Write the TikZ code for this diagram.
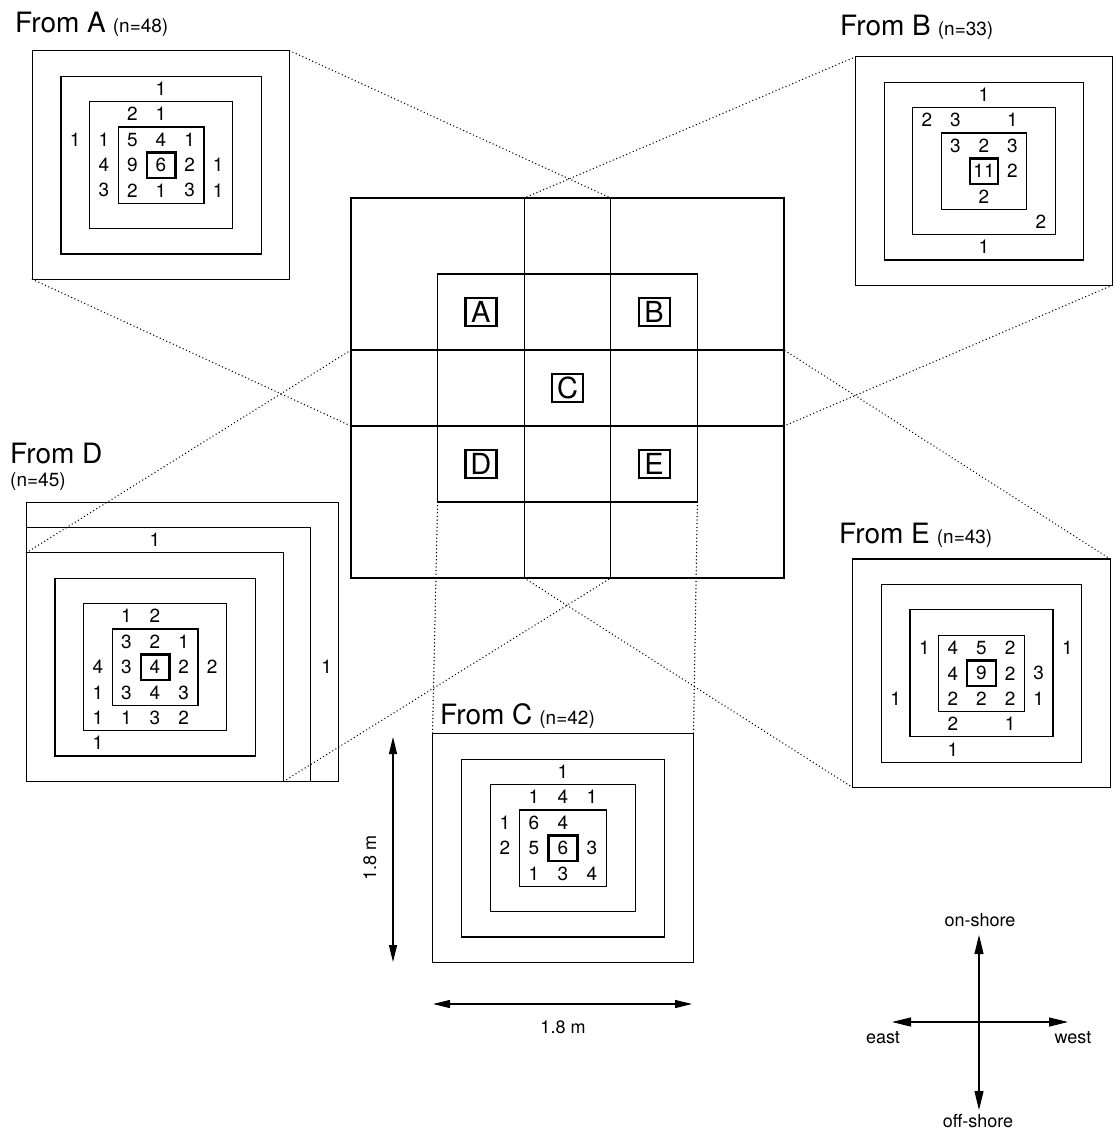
\documentclass[tikz,border=0pt]{standalone}
\usepackage{fontspec}
\setmainfont{TeX Gyre Heros}
\usetikzlibrary{arrows.meta,calc}
\tikzset{
  ring/.style={draw, line width=1.2pt, inner sep=0pt, outer sep=0pt, rectangle},
  ctr/.style={draw, line width=2.4pt, inner sep=0pt, outer sep=0pt, font=\fontsize{19}{19}\selectfont},
  num/.style={inner sep=0pt, font=\fontsize{19}{19}\selectfont},
  ttl/.style={anchor=base west, inner sep=0pt, font=\fontsize{28}{30}\selectfont},
  conn/.style={line width=1.5pt, line cap=round, dash pattern=on 0.01pt off 3.6pt},
  lbox/.style={draw, line width=2.2pt, inner sep=0pt, minimum width=31pt, minimum height=28pt, font=\fontsize{29}{29}\selectfont},
  dimarr/.style={line width=1.2pt, {Triangle[length=17pt,width=8pt]}-{Triangle[length=17pt,width=8pt]}},
  comparr/.style={line width=1.2pt, -{Triangle[length=19pt,width=9pt]}},
  lab/.style={font=\fontsize{18}{18}\selectfont, inner sep=0pt},
}
\newcommand\mkpanel[6]{% name, x, y, cw, ch, centre number
  \coordinate (c#1) at (#2,#3);
  \foreach \k in {9,7,5,3}{
    \node[ring, minimum width={\k*#4pt}, minimum height={\k*#5pt}] (p#1\k) at (c#1) {};
  }
  \node[ctr, minimum width=#4pt, minimum height=#5pt] (k#1) at (c#1) {#6};
}
\newcommand\mknums[4]{% name, cw, ch, list
  \foreach \i/\j/\t in {#4}{
    \path (c#1) ++(\i*#2,\j*#3) node[num] (n#1\i\j) {\t};
  }
}
\newcommand\sm[1]{{\fontsize{19}{20}\selectfont #1}}
\begin{document}
\begin{tikzpicture}[x=1pt,y=-1pt]
\useasboundingbox (0,0) rectangle (1114,1133);

% ---------- central grid ----------
\foreach \i in {0,...,5}{
  \foreach \j in {0,...,5}{
    \coordinate (g\i\j) at (351+\i*86.6, 198+\j*76);
  }
}
\draw[line width=1.3pt] (g11) rectangle (g44);
\draw[line width=1.3pt] (g20) -- (g25);
\draw[line width=1.3pt] (g30) -- (g35);
\draw[line width=1.3pt] (g02) -- (g52);
\draw[line width=1.3pt] (g03) -- (g53);
\draw[line width=2.6pt] (g00) rectangle (g55);
\node[lbox] (bA) at ($(g11)!0.5!(g22)$) {A};
\node[lbox] (bB) at ($(g31)!0.5!(g42)$) {B};
\node[lbox] (bC) at ($(g22)!0.5!(g33)$) {C};
\node[lbox] (bD) at ($(g13)!0.5!(g24)$) {D};
\node[lbox] (bE) at ($(g33)!0.5!(g44)$) {E};

% ---------- panels ----------
\mkpanel{A}{161}{165}{28.6}{25.4}{6}
\mknums{A}{28.6}{25.4}{0/-3/1, -1/-2/2, 0/-2/1,
  -3/-1/1, -2/-1/1, -1/-1/5, 0/-1/4, 1/-1/1,
  -2/0/4, -1/0/9, 1/0/2, 2/0/1,
  -2/1/3, -1/1/2, 0/1/1, 1/1/3, 2/1/1}
\node[ttl] (tA) at (15,32) {From A\hspace{7pt}\sm{(n=48)}};

\mkpanel{B}{984}{171}{28.5}{25.4}{11}
\mknums{B}{28.5}{25.4}{0/-3/1, -2/-2/2, -1/-2/3, 1/-2/1,
  -1/-1/3, 0/-1/2, 1/-1/3, 1/0/2, 0/1/2, 2/2/2, 0/3/1}
\node[ttl] (tB) at (840,35) {From B\hspace{7pt}\sm{(n=33)}};

\mkpanel{C}{563}{848}{29}{25.4}{6}
\mknums{C}{29}{25.4}{0/-3/1, -1/-2/1, 0/-2/4, 1/-2/1,
  -2/-1/1, -1/-1/6, 0/-1/4, -2/0/2, -1/0/5, 1/0/3,
  -1/1/1, 0/1/3, 1/1/4}
\node[ttl] (tC) at (440,724) {From C\hspace{7pt}\sm{(n=42)}};

\mkpanel{D}{155}{667}{28.6}{25.4}{4}
\draw[line width=1.2pt] (pD9.south west) rectangle ($(pD9.north east)+(27,-25.4)$);
\draw[line width=1.2pt] (pD9.south west) rectangle ($(pD9.north east)+(55,-50)$);
\mknums{D}{28.6}{25.4}{0/-5/1, 6/0/1, -1/-2/1, 0/-2/2,
  -1/-1/3, 0/-1/2, 1/-1/1, -2/0/4, -1/0/3, 1/0/2, 2/0/2,
  -2/1/1, -1/1/3, 0/1/4, 1/1/3, -2/2/1, -1/2/1, 0/2/3, 1/2/2, -2/3/1}
\node[ttl] (tD) at (10,463) {From D};
\node[anchor=base west, inner sep=0pt, font=\fontsize{19}{20}\selectfont] (sD) at (10,486) {(n=45)};

\mkpanel{E}{981.5}{673.3}{28.6}{25.4}{9}
\mknums{E}{28.6}{25.4}{-2/-1/1, -1/-1/4, 0/-1/5, 1/-1/2, 3/-1/1,
  -1/0/4, 1/0/2, 2/0/3, -3/1/1, -1/1/2, 0/1/2, 1/1/2, 2/1/1,
  -1/2/2, 1/2/1, -1/3/1}
\node[ttl] (tE) at (839,543) {From E\hspace{7pt}\sm{(n=43)}};

% ---------- dotted connectors ----------
\draw[conn] (pA9.north east) -- (g30);
\draw[conn] (pA9.south west) -- (g03);
\draw[conn] (pB9.north west) -- (g20);
\draw[conn] (pB9.south east) -- (g53);
\draw[conn] (pD9.north west) -- (g02);
\draw[conn] (pD9.south east) -- (g35);
\draw[conn] (pE9.north east) -- (g52);
\draw[conn] (pE9.south west) -- (g25);
\draw[conn] (g14) -- (pC9.north west);
\draw[conn] (g44) -- (pC9.north east);

% ---------- dimensions ----------
\coordinate (v1) at (393,737);
\coordinate (v2) at (393,962);
\draw[dimarr] (v1) -- (v2);
\node[lab, rotate=90] (dv) at (370,858) {1.8 m};
\coordinate (h1) at (433,1004);
\coordinate (h2) at (692,1004);
\draw[dimarr] (h1) -- (h2);
\node[lab] (dh) at (563,1027) {1.8 m};

% ---------- compass ----------
\coordinate (cc) at (979,1022);
\coordinate (nt) at (979,935);
\coordinate (st) at (979,1110);
\coordinate (et) at (892,1022);
\coordinate (wt) at (1068,1022);
\draw[comparr] (cc) -- (nt);
\draw[comparr] (cc) -- (st);
\draw[comparr] (cc) -- (et);
\draw[comparr] (cc) -- (wt);
\node[lab] (on) at (980,920) {on-shore};
\node[lab] (off) at (978,1121) {off-shore};
\node[lab] (ea) at (883,1038) {east};
\node[lab] (we) at (1073,1038) {west};
\end{tikzpicture}
\end{document}
